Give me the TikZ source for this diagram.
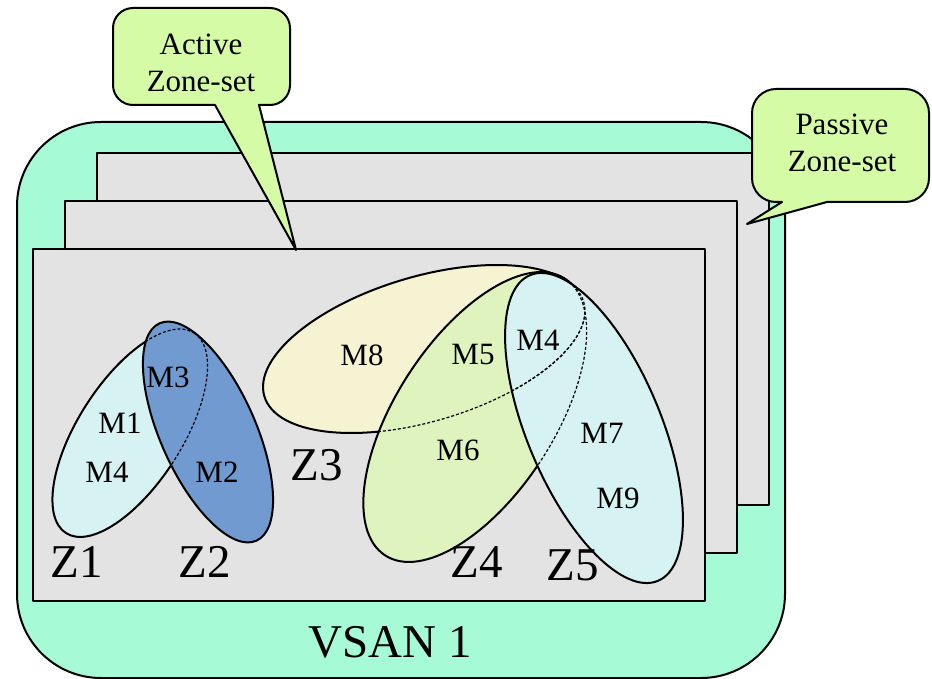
\documentclass[tikz,border=0pt]{standalone}
\usepackage{fontspec}
\setmainfont{Liberation Serif}
\definecolor{vsangreen}{RGB}{166,251,214}
\definecolor{setgray}{RGB}{227,227,227}
\definecolor{calloutgreen}{RGB}{214,251,166}
\definecolor{zcyan}{RGB}{214,242,242}
\definecolor{zblue}{RGB}{112,154,208}
\definecolor{zyellow}{RGB}{245,243,210}
\definecolor{zgreen}{RGB}{222,243,190}

\begin{document}
\begin{tikzpicture}[x=0.5pt,y=-0.5pt,line join=round,
    outline/.style={draw=black,line width=1pt},
    hidden/.style={line width=0.6pt,dash pattern=on 1.5pt off 1pt},
    member/.style={font=\fontsize{15.5}{18.5}\selectfont},
    zonelabel/.style={font=\fontsize{23.5}{26}\selectfont}]
  \useasboundingbox (0,0) rectangle (932,679);

  % VSAN and the three zone-sets
  \draw[outline,fill=vsangreen,rounded corners=42pt] (17,122) rectangle (785,678);
  \draw[outline,fill=setgray] (97,153) rectangle (769,505);
  \draw[outline,fill=setgray] (65,201) rectangle (737,553);
  \draw[outline,fill=setgray] (33,249) rectangle (705,601);

  % callouts
  \draw[outline,fill=calloutgreen,rounded corners=10pt]
    (113,8) -- (290,8) -- (290,105) [sharp corners] -- (259,105) -- (296,250)
    -- (215,105) [rounded corners=10pt] -- (113,105) -- cycle;
  \draw[outline,fill=calloutgreen,rounded corners=12pt]
    (752,89) -- (929,89) -- (929,202) [sharp corners] -- (827,202) -- (747,224)
    -- (782,202) [rounded corners=12pt] -- (752,202) -- cycle;
  \node[member,align=center] (active) at (201,63) {Active\\Zone-set};
  \node[member,align=center] (passive) at (842,143) {Passive\\Zone-set};

  % Z1, Z2
  \draw[outline,fill=zcyan,shift={(130,433)},rotate=57.4] (0,0) ellipse [x radius=118.8,y radius=52];
  \draw[outline,fill=zblue,shift={(208,432)},rotate=-66] (0,0) ellipse [x radius=119,y radius=47.6];
  \begin{scope}
    \clip[shift={(208,432)},rotate=-66] (0,0) ellipse [x radius=119,y radius=47.6];
    \draw[hidden,shift={(130,433)},rotate=57.4] (0,0) ellipse [x radius=118.8,y radius=52];
  \end{scope}

  % Z3, Z4, Z5
  \draw[outline,fill=zyellow,shift={(424,349)},rotate=16.5] (0,0) ellipse [x radius=166.5,y radius=72.4];
  \draw[outline,fill=zgreen,shift={(475,417)},rotate=57] (0,0) ellipse [x radius=165,y radius=79];
  \draw[outline,fill=zcyan,shift={(594,428)},rotate=-67.3] (0,0) ellipse [x radius=165.7,y radius=67];
  \begin{scope}
    \clip[shift={(475,417)},rotate=57] (0,0) ellipse [x radius=165,y radius=79];
    \draw[hidden,shift={(424,349)},rotate=16.5] (0,0) ellipse [x radius=166.5,y radius=72.4];
  \end{scope}
  \begin{scope}
    \clip[shift={(594,428)},rotate=-67.3] (0,0) ellipse [x radius=165.7,y radius=67];
    \draw[hidden,shift={(424,349)},rotate=16.5] (0,0) ellipse [x radius=166.5,y radius=72.4];
    \draw[hidden,shift={(475,417)},rotate=57] (0,0) ellipse [x radius=165,y radius=79];
  \end{scope}

  % members
  \node[member] (m3) at (168,377) {M3};
  \node[member] (m1) at (120,423) {M1};
  \node[member] (m4a) at (107,472) {M4};
  \node[member] (m2) at (217,472) {M2};
  \node[member] (m8) at (362,355) {M8};
  \node[member] (m5) at (473,355) {M5};
  \node[member] (m4b) at (538,340) {M4};
  \node[member] (m6) at (458,450) {M6};
  \node[member] (m7) at (602,433) {M7};
  \node[member] (m9) at (618,498) {M9};

  % zone names
  \node[zonelabel] (z1) at (77,562) {Z1};
  \node[zonelabel] (z2) at (205,562) {Z2};
  \node[zonelabel] (z3) at (317,465) {Z3};
  \node[zonelabel] (z4) at (477,562) {Z4};
  \node[zonelabel] (z5) at (573,565) {Z5};
  \node[zonelabel] (vsan) at (390,642) {VSAN 1};
\end{tikzpicture}
\end{document}
